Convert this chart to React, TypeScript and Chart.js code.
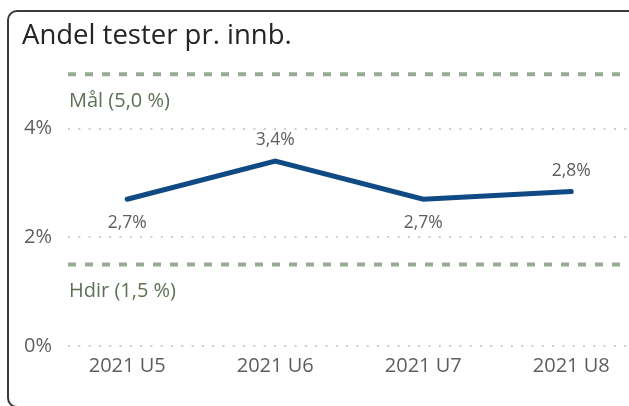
import React, { useEffect, useRef } from "react";
import { Chart, registerables } from "chart.js";

Chart.register(...registerables);

// ---- data ----
const title = "Andel tester pr. innb.";
const categories = ["2021 U5", "2021 U6", "2021 U7", "2021 U8"];
const values = [2.7, 3.4, 2.7, 2.84];
const yTicks = [0, 2, 4];
const refNames = ["Mål", "Hdir"];
const refValues = [5.0, 1.5];

const FONT = '"Open Sans", "Noto Sans", sans-serif';
const fmt = (v: number, d: number) => v.toFixed(d).replace(".", ",");

const refLinesPlugin = {
  id: "refLines",
  beforeDatasetsDraw(chart: any) {
    const { ctx, chartArea, scales } = chart;
    ctx.save();
    refValues.forEach((v, i) => {
      const y = scales.y.getPixelForValue(v);
      ctx.beginPath();
      ctx.setLineDash([8, 9]);
      ctx.lineWidth = 4;
      ctx.strokeStyle = "#98AB94";
      ctx.moveTo(chartArea.left, y);
      ctx.lineTo(chart.width, y);
      ctx.stroke();
      ctx.setLineDash([]);
      ctx.font = `20px ${FONT}`;
      ctx.fillStyle = "#5E7156";
      ctx.textAlign = "left";
      ctx.textBaseline = "middle";
      ctx.fillText(`${refNames[i]} (${fmt(v, 1)} %)`, chartArea.left + 1, y + 27);
    });
    ctx.restore();
  },
};

const labelsPlugin = {
  id: "pointLabels",
  afterDatasetsDraw(chart: any) {
    const { ctx } = chart;
    const meta = chart.getDatasetMeta(0);
    ctx.save();
    ctx.font = `17.5px ${FONT}`;
    ctx.fillStyle = "#605E5C";
    ctx.textAlign = "center";
    ctx.textBaseline = "middle";
    meta.data.forEach((pt: any, i: number) => {
      const v = values[i];
      const nb: number[] = [];
      if (i > 0) nb.push(values[i - 1]);
      if (i < values.length - 1) nb.push(values[i + 1]);
      const avg = nb.reduce((a, b) => a + b, 0) / nb.length;
      const below = v <= avg;
      const y = below ? pt.y + 24 : pt.y - 21;
      ctx.fillText(`${fmt(v, 1)}%`, pt.x, y);
    });
    ctx.restore();
  },
};

const titlePlugin = {
  id: "cardTitle",
  afterDraw(chart: any) {
    const { ctx } = chart;
    ctx.save();
    ctx.font = `500 27.5px ${FONT}`;
    ctx.fillStyle = "#252423";
    ctx.textAlign = "left";
    ctx.textBaseline = "alphabetic";
    ctx.fillText(title, 22, 44);
    ctx.restore();
  },
};

function ChartCanvas() {
  const ref = useRef<HTMLCanvasElement | null>(null);
  useEffect(() => {
    let chart: Chart | null = null;
    let cancelled = false;
    const make = () => {
      if (cancelled || !ref.current) return;
      chart = new Chart(ref.current, {
        type: "line",
        data: {
          datasets: [
            {
              data: values.map((v, i) => ({ x: i, y: v })),
              borderColor: "#104A84",
              borderWidth: 5,
              borderCapStyle: "round",
              borderJoinStyle: "miter",
              pointRadius: 0,
              tension: 0,
              fill: false,
            },
          ],
        },
        options: {
          responsive: false,
          animation: false,
          layout: { padding: { top: 66, left: 0, right: 0, bottom: 0 } },
          plugins: { legend: { display: false }, tooltip: { enabled: false } },
          scales: {
            x: {
              type: "linear",
              min: -0.4,
              max: 3.39,
              afterFit: (s: any) => {
                s.height = 60;
              },
              afterBuildTicks: (s: any) => {
                s.ticks = categories.map((_, i) => ({ value: i }));
              },
              grid: { display: false, drawTicks: false },
              border: { display: false },
              ticks: {
                autoSkip: false,
                maxRotation: 0,
                padding: 8,
                color: "#605E5C",
                font: { family: FONT, size: 20 },
                callback: (v: any) => categories[v as number] ?? "",
              },
            },
            y: {
              min: 0,
              max: 5.15,
              afterFit: (s: any) => {
                s.width = 68;
              },
              afterBuildTicks: (s: any) => {
                s.ticks = yTicks.map((v) => ({ value: v }));
              },
              grid: { color: "#CFCDCB", lineWidth: 2, drawTicks: false },
              border: { display: false, dash: [2, 8.3] },
              ticks: {
                padding: 16,
                color: "#605E5C",
                font: { family: FONT, size: 20 },
                callback: (v: any) => `${v}%`,
              },
            },
          },
        } as any,
        plugins: [refLinesPlugin, labelsPlugin, titlePlugin],
      });
    };
    const fonts: any = (document as any).fonts;
    if (fonts && fonts.load) {
      Promise.all([fonts.load(`20px "Open Sans"`), fonts.load(`500 27.5px "Open Sans"`)])
        .catch(() => null)
        .then(make);
    } else make();
    return () => {
      cancelled = true;
      if (chart) chart.destroy();
    };
  }, []);
  return (
    <canvas
      ref={ref}
      width={629}
      height={406}
      style={{ position: "absolute", left: 0, top: 0, width: 629, height: 406 }}
    />
  );
}

export default function App() {
  return (
    <div
      style={{
        position: "fixed",
        left: 0,
        top: 0,
        width: 629,
        height: 406,
        overflow: "hidden",
        background: "#ffffff",
      }}
    >
      <div
        style={{
          position: "absolute",
          left: 7,
          top: 10,
          width: 700,
          height: 398,
          border: "2px solid #3A3A3A",
          borderRadius: 10,
          boxSizing: "border-box",
        }}
      />
      <ChartCanvas />
    </div>
  );
}
